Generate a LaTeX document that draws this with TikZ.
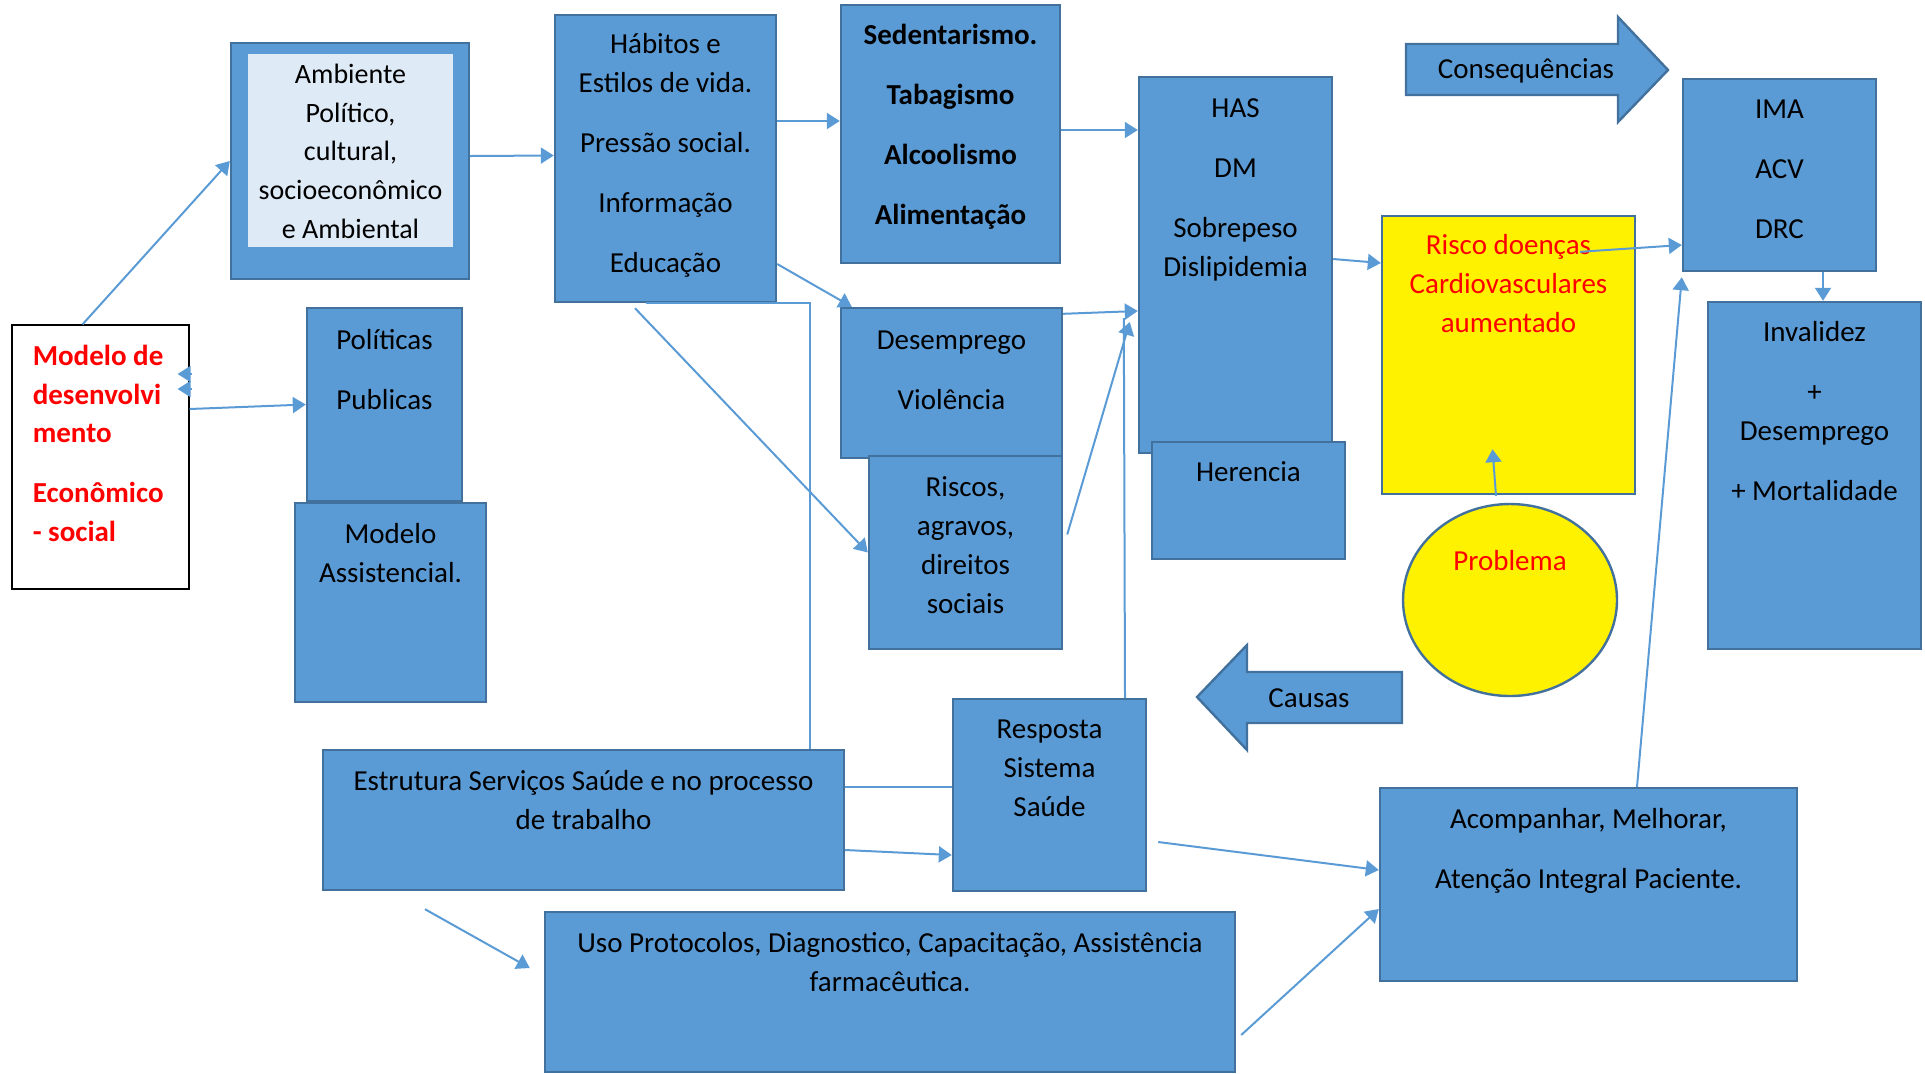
\documentclass[tikz,border=0pt]{standalone}
\usepackage{fontspec}
\setmainfont{Carlito}
\usepackage{tikz}
\usetikzlibrary{arrows.meta}
\usetikzlibrary{positioning}
\usetikzlibrary{shapes.geometric}

\definecolor{boxblue}{HTML}{5B9BD5}
\definecolor{boxedge}{HTML}{41719C}
\definecolor{boxlight}{HTML}{DEEBF7}
\definecolor{linkblue}{HTML}{5B9BD5}

\newcommand{\boxfont}{\fontsize{14.5pt}{19.4pt}\selectfont}
\newcommand{\pskip}{\\[10.6pt]}

\tikzstyle{blok} = [rectangle, draw=boxedge, fill=boxblue, line width=1.2pt, inner sep=0pt]
\tikzstyle{bigarrow} = [draw=boxedge, fill=boxblue, line width=1.2pt, line join=miter]
\tikzstyle{txt} = [align=center, inner sep=0pt, font=\boxfont, yshift=-1.2pt]
\tikzstyle{link} = [draw=linkblue, line width=1pt]
\tikzstyle{arrow} = [link, ->]

\begin{document}
\begin{tikzpicture}[x=0.5pt, y=-0.5pt, >={Triangle[length=6.5pt,width=8pt]}]

  \useasboundingbox (0,0) rectangle (1925,1073);

  % left column
  \node[rectangle, draw=black, line width=0.6pt, fill=white, minimum width=88.5pt, minimum height=132pt, inner sep=0pt] (mod) at (100.5,457) {};
  \node[txt, align=left, anchor=north west, text=red, font=\boxfont\bfseries] (modt) at ([xshift=10.5pt,yshift=-5.5pt]mod.north west) {\strut Modelo de\\desenvolvi\\mento\pskip Econômico\\- social};

  \node[blok, minimum width=119pt, minimum height=118pt] (amb) at (350,161) {};
  \node[rectangle, fill=boxlight, minimum width=102.5pt, minimum height=96.5pt, inner sep=0pt] (ambin) at (350.5,150.5) {};
  \node[txt, font=\fontsize{14pt}{19.35pt}\selectfont, below=0pt of ambin.north] (ambt) {\strut Ambiente\\Político,\\cultural,\\socioeconômico\\e Ambiental};

  \node[blok, minimum width=77.5pt, minimum height=96.5pt] (pol) at (384.5,404.5) {};
  \node[txt, below=6.5pt of pol.north] (polt) {\strut Políticas\pskip Publicas};
  \node[blok, minimum width=95.5pt, minimum height=99.5pt] (ass) at (390.5,602.5) {};
  \node[txt, below=6pt of ass.north] (asst) {\strut Modelo\\Assistencial.};

  % middle
  \node[blok, minimum width=110.5pt, minimum height=143.5pt] (hab) at (665.5,158.5) {};
  \node[txt, below=5pt of hab.north] (habt) {\strut Hábitos e\\Estilos de vida.\pskip Pressão social.\pskip Informação\pskip Educação};

  \node[blok, minimum width=109.5pt, minimum height=129pt] (sed) at (950.5,134) {};
  \node[txt, font=\boxfont\bfseries, below=5.5pt of sed.north] (sedt) {\strut Sedentarismo.\pskip Tabagismo\pskip Alcoolismo\pskip Alimentação};

  \node[blok, minimum width=110.5pt, minimum height=75pt] (des) at (951.5,383) {};
  \node[txt, below=6.5pt of des.north] (dest) {\strut Desemprego\pskip Violência};
  \node[blok, minimum width=96.5pt, minimum height=96.5pt] (ris) at (965.5,552.5) {};
  \node[txt, below=6pt of ris.north] (rist) {\strut Riscos,\\agravos,\\direitos\\sociais};

  \node[blok, minimum width=96.5pt, minimum height=188pt] (has) at (1235.5,265) {};
  \node[txt, below=6pt of has.north] (hast) {\strut HAS\pskip DM\pskip Sobrepeso\\Dislipidemia};
  \node[blok, minimum width=96.5pt, minimum height=58.5pt] (her) at (1248.5,500.5) {};
  \node[txt, below=5.5pt of her.north] (hert) {\strut Herencia};

  % right
  \node[blok, fill=yellow, minimum width=126.5pt, minimum height=139pt] (risk) at (1508.5,355) {};
  \node[txt, text=red, below=5pt of risk.north] (riskt) {\strut Risco doenças\\Cardiovasculares\\aumentado};
  \node[ellipse, draw=boxedge, fill=yellow, line width=1.2pt, minimum width=107pt, minimum height=96pt, inner sep=0pt] (prob) at (1510,600) {};
  \node[txt, text=red, below=19pt of prob.north] (probt) {\strut Problema};

  \node[blok, minimum width=96.5pt, minimum height=96pt] (ima) at (1779.5,175) {};
  \node[txt, below=5.5pt of ima.north] (imat) {\strut IMA\pskip ACV\pskip DRC};
  \node[blok, minimum width=106.5pt, minimum height=173.5pt] (inv) at (1814.5,475.5) {};
  \node[txt, below=5.5pt of inv.north] (invt) {\strut Invalidez\pskip +\\Desemprego\pskip + Mortalidade};

  % Two big arrows
  \draw[bigarrow] (1406,44) -- (1618,44) -- (1618,17) -- (1668,70) -- (1618,122) -- (1618,95) -- (1406,95) -- cycle;
  \node[txt, anchor=north] (cons) at (1526,49) {\strut Consequências};
  \draw[bigarrow] (1402,672) -- (1247,672) -- (1247,645) -- (1197,697) -- (1247,750) -- (1247,723) -- (1402,723) -- cycle;
  \node[txt, anchor=north] (caus) at (1309,678) {\strut Causas};

  % bottom row
  \node[blok, minimum width=96.5pt, minimum height=96pt] (resp) at (1049.5,795) {};
  \node[txt, below=5.5pt of resp.north] (respt) {\strut Resposta\\Sistema\\Saúde};
  \node[blok, minimum width=260.5pt, minimum height=70pt] (est) at (583.5,820) {};
  \node[txt, below=6pt of est.north] (estt) {\strut Estrutura Serviços Saúde e no processo\\de trabalho};
  \node[blok, minimum width=345pt, minimum height=80pt] (uso) at (890,992) {};
  \node[txt, below=6pt of uso.north] (usot) {\strut Uso Protocolos, Diagnostico, Capacitação, Assistência\\farmacêutica.};
  \node[blok, minimum width=208.5pt, minimum height=96.5pt] (aco) at (1588.5,884.5) {};
  \node[txt, below=6pt of aco.north] (acot) {\strut Acompanhar, Melhorar,\pskip Atenção Integral Paciente.};

  % connectors
  \draw[arrow] ([xshift=-9pt]mod.north) -- (amb.west);
  \draw[arrow] ([yshift=2.5pt]amb.east) -- ([yshift=1.5pt]hab.west);
  \draw[arrow] ([yshift=24pt]mod.east) -- (pol.west);
  \draw[arrow] ([xshift=1pt,yshift=41.5pt]mod.east) -- ([xshift=-6pt,yshift=41.5pt]mod.east);
  \draw[arrow] ([xshift=1pt,yshift=34pt]mod.east) -- ([xshift=-6pt,yshift=34pt]mod.east);
  \draw[arrow] ([yshift=18.75pt]hab.east) -- ([yshift=6.5pt]sed.west);
  \draw[arrow] ([yshift=2pt]sed.east) -- ([yshift=67.5pt]has.west);
  \draw[arrow] ([yshift=-52.75pt]hab.east) -- ([xshift=6pt]des.north west);
  \draw[arrow] ([xshift=-15.25pt,yshift=-2.5pt]hab.south) -- (ris.west);
  \draw[link] ([xshift=-10pt]hab.south) -| ([xshift=113.25pt]est.north);
  \draw[arrow] ([yshift=-3.5pt]des.north east) -- ([yshift=-23pt]has.west);
  \draw[arrow] ([xshift=2pt,yshift=9pt]ris.east) -- ([xshift=-4pt,yshift=-28.5pt]has.west);
  \draw[link] ([xshift=37.75pt]resp.north) -- ([xshift=-7pt,yshift=-26.5pt]has.west);
  \draw[link] ([yshift=16.5pt]est.east) -- ([yshift=4pt]resp.west);
  \draw[arrow] ([yshift=-15pt]est.east) -- ([yshift=-30pt]resp.west);
  \draw[arrow] ([xshift=5.5pt,yshift=-23.5pt]resp.east) -- ([yshift=7.25pt]aco.west);
  \draw[arrow] ([xshift=2.5pt,yshift=-21.5pt]uso.east) -- ([yshift=-12.25pt]aco.west);
  \draw[arrow] ([xshift=24.25pt]aco.north) -- ([yshift=-2.5pt]ima.south west);
  \draw[arrow] ([yshift=3pt]has.east) -- ([yshift=46pt]risk.west);
  \draw[arrow] ([xshift=35.75pt,yshift=-18.5pt]risk.north) -- ([yshift=-35pt]ima.west);
  \draw[arrow] ([xshift=21.75pt]ima.south) -- ([xshift=21.75pt]ima.south |- inv.north);
  \draw[arrow] ([xshift=-7pt,yshift=3.5pt]prob.north) -- ([xshift=-8pt,yshift=23pt]risk.south);
  \draw[arrow] ([xshift=-79.25pt,yshift=-9pt]est.south) -- ([xshift=-7pt,yshift=12pt]uso.west);

\end{tikzpicture}
\end{document}
